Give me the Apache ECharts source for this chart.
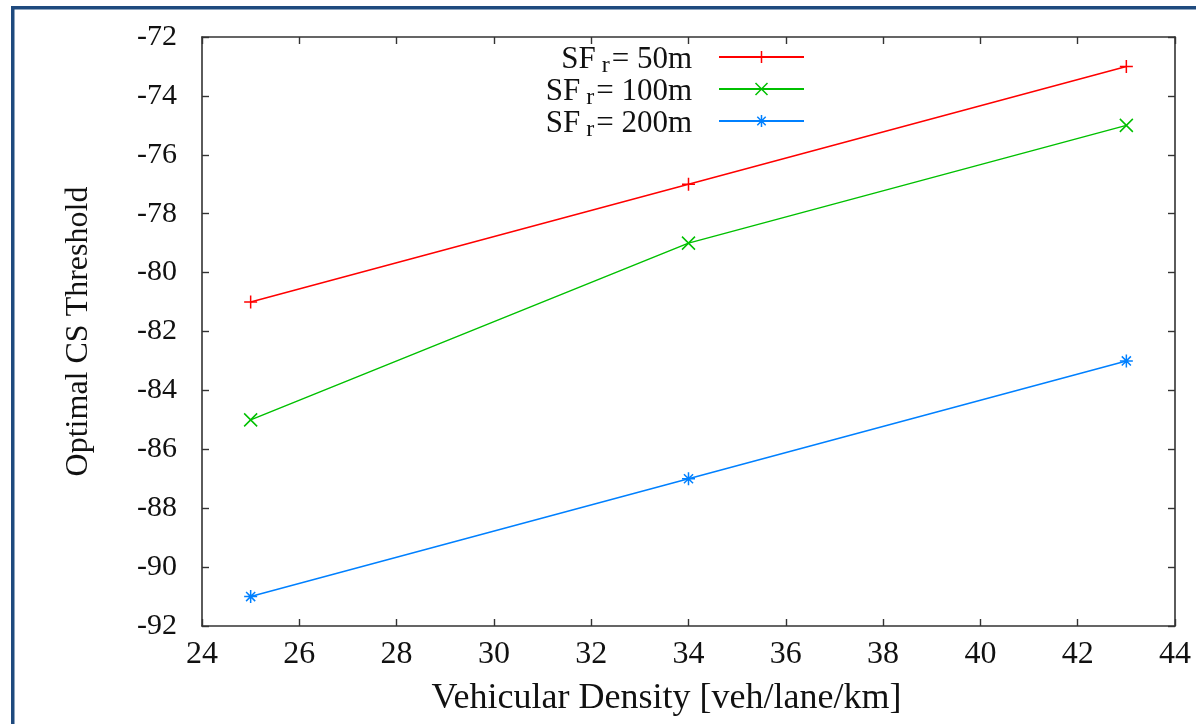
<!DOCTYPE html>
<html>
<head>
<meta charset="utf-8">
<style>
  html, body { margin: 0; padding: 0; background: #ffffff; }
  #chart { width: 1196px; height: 724px; }
</style>
<script src="https://cdn.jsdelivr.net/npm/echarts@6/dist/echarts.min.js"></script>
</head>
<body>
<div id="chart"></div>
<script>
// Vehicular density on the x axis (veh/lane/km)
const densities = [25, 34, 43];
// Optimal carrier-sense threshold for each safety-field range
const sf50 = [-81, -77, -73];
const sf100 = [-85, -79, -75];
const sf200 = [-91, -87, -83];
const seriesNames = ['50m', '100m', '200m'];

const xTicks = { min: 24, max: 44, step: 2 };
const yTicks = { min: -92, max: -72, step: 2 };

const serif = '"Liberation Serif", "DejaVu Serif", serif';

// gnuplot-like point glyphs: plus, cross, asterisk
const plusPath = 'path://M0,6L12,6M6,0L6,12';
const crossPath = 'path://M0,0L12,12M12,0L0,12';
const starPath = 'path://M0,6L12,6M6,0L6,12M1.8,1.8L10.2,10.2M10.2,1.8L1.8,10.2';

function pairs(ys) {
  return densities.map((x, i) => [x, ys[i]]);
}

function makeSeries(name, ys, color, symbol) {
  return {
    name: name,
    type: 'line',
    data: pairs(ys),
    symbol: symbol,
    symbolSize: 13,
    symbolKeepAspect: true,
    showSymbol: true,
    lineStyle: { color: color, width: 1.5 },
    itemStyle: { color: color, borderColor: color, borderWidth: 1.5 },
    emphasis: { disabled: true }
  };
}

const chart = echarts.init(document.getElementById('chart'), null, { renderer: 'canvas' });

const axisLineStyle = { color: '#333333', width: 1.6 };
const tickStyle = { show: true, inside: true, length: 7, lineStyle: { color: '#333333', width: 1.4 } };
const ink = '#111111';

chart.setOption({
  animation: false,
  backgroundColor: '#ffffff',
  grid: { left: 202, right: 21, top: 37, bottom: 98 },
  legend: {
    orient: 'vertical',
    align: 'right',
    right: 386,
    top: 39,
    itemWidth: 85,
    itemHeight: 15,
    itemGap: -2,
    selectedMode: false,
    itemStyle: { borderWidth: 1.5 },
    formatter: function (name) {
      return '{a|SF}{s|r}{b|= ' + name + '}';
    },
    textStyle: {
      color: ink,
      fontFamily: serif,
      rich: {
        a: { fontFamily: serif, fontSize: 31, lineHeight: 26, verticalAlign: 'top', color: ink },
        s: { fontFamily: serif, fontSize: 24, lineHeight: 18, verticalAlign: 'top', padding: [10, 2, 0, 6], color: ink },
        b: { fontFamily: serif, fontSize: 31, lineHeight: 26, verticalAlign: 'top', padding: [0, 22, 0, 0], color: ink }
      }
    },
    data: seriesNames
  },
  xAxis: [
    {
      type: 'value',
      position: 'bottom',
      min: xTicks.min,
      max: xTicks.max,
      interval: xTicks.step,
      axisLine: { show: true, onZero: false, lineStyle: axisLineStyle },
      axisTick: tickStyle,
      splitLine: { show: false },
      axisLabel: { margin: 13, color: ink, fontFamily: serif, fontSize: 32 },
      name: 'Vehicular Density [veh/lane/km]',
      nameLocation: 'middle',
      nameGap: 55,
      nameTextStyle: { color: ink, fontFamily: serif, fontSize: 36, padding: [0, 44, 0, 0] }
    },
    {
      type: 'value',
      position: 'top',
      min: xTicks.min,
      max: xTicks.max,
      interval: xTicks.step,
      axisLine: { show: true, onZero: false, lineStyle: axisLineStyle },
      axisTick: tickStyle,
      splitLine: { show: false },
      axisLabel: { show: false }
    }
  ],
  yAxis: [
    {
      type: 'value',
      position: 'left',
      min: yTicks.min,
      max: yTicks.max,
      interval: yTicks.step,
      axisLine: { show: true, onZero: false, lineStyle: axisLineStyle },
      axisTick: tickStyle,
      splitLine: { show: false },
      axisLabel: { margin: 25, color: ink, fontFamily: serif, fontSize: 30 },
      name: 'Optimal CS Threshold',
      nameLocation: 'middle',
      nameGap: 107,
      nameTextStyle: { color: ink, fontFamily: serif, fontSize: 32 }
    },
    {
      type: 'value',
      position: 'right',
      min: yTicks.min,
      max: yTicks.max,
      interval: yTicks.step,
      axisLine: { show: true, onZero: false, lineStyle: axisLineStyle },
      axisTick: tickStyle,
      splitLine: { show: false },
      axisLabel: { show: false }
    }
  ],
  series: [
    makeSeries(seriesNames[0], sf50, '#ff0000', plusPath),
    makeSeries(seriesNames[1], sf100, '#00c000', crossPath),
    makeSeries(seriesNames[2], sf200, '#0080ff', starPath)
  ],
  graphic: [
    // dark blue frame along the top and left edges
    { type: 'rect', left: 11, top: 6, shape: { width: 1185, height: 3.5 }, style: { fill: '#1f4a7e' }, silent: true },
    { type: 'rect', left: 11, top: 6, shape: { width: 3.5, height: 718 }, style: { fill: '#1f4a7e' }, silent: true }
  ]
});
</script>
</body>
</html>
